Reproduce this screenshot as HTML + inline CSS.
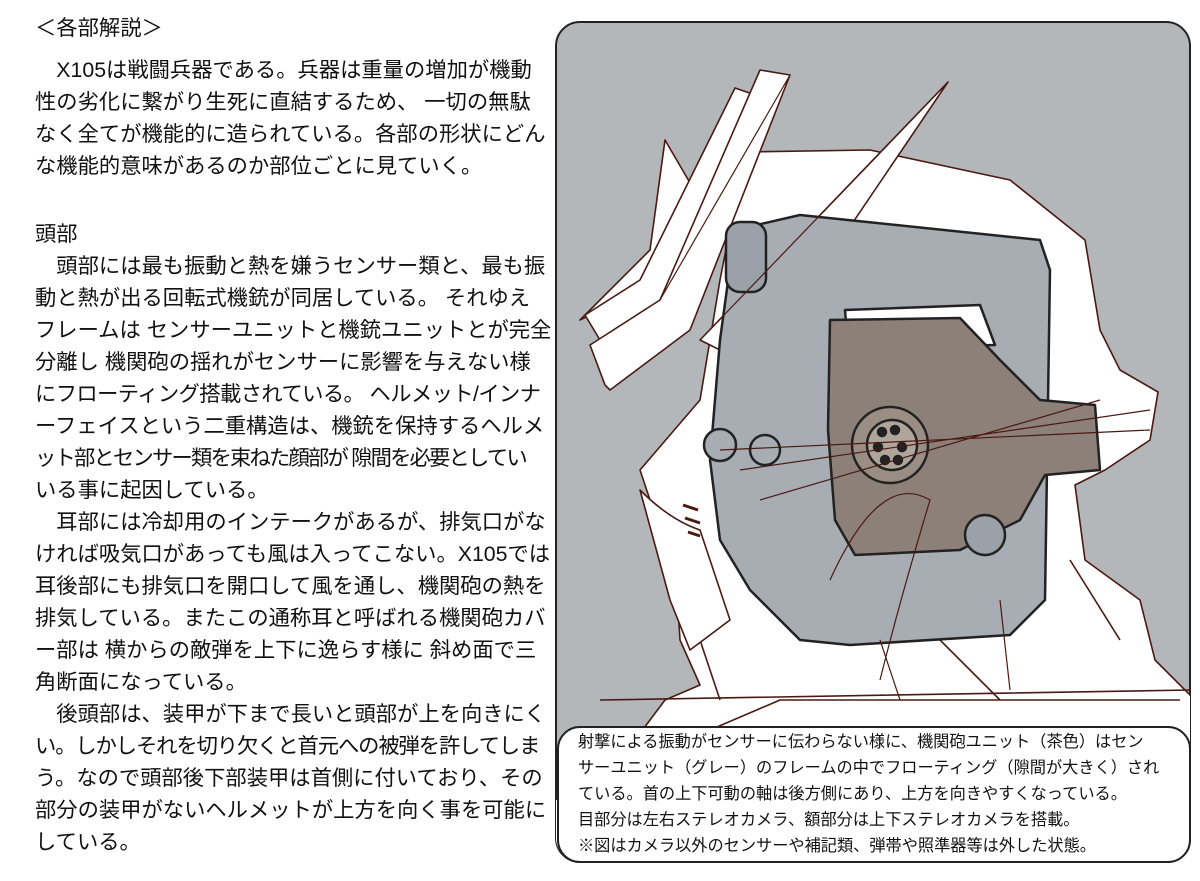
<!DOCTYPE html>
<html><head><meta charset="utf-8"><style>
body{margin:0;width:1200px;height:881px;background:#fff;position:relative;overflow:hidden;font-family:"Liberation Sans","Noto Sans CJK JP",sans-serif;color:#111}
.l{position:absolute;left:35px;font-size:21.3px;line-height:32px;white-space:nowrap;letter-spacing:0}
.c{position:absolute;left:578px;font-size:16.2px;line-height:26px;white-space:nowrap;letter-spacing:0}
</style></head><body>
<div class="l" style="top:12px">＜各部解説＞</div>
<div class="l" style="top:54px">　X105は戦闘兵器である。兵器は重量の増加が機動</div>
<div class="l" style="top:86px">性の劣化に繋がり生死に直結するため、 一切の無駄</div>
<div class="l" style="top:118px">なく全てが機能的に造られている。各部の形状にどん</div>
<div class="l" style="top:150px">な機能的意味があるのか部位ごとに見ていく。</div>
<div class="l" style="top:218px">頭部</div>
<div class="l" style="top:250px">　頭部には最も振動と熱を嫌うセンサー類と、最も振</div>
<div class="l" style="top:282px">動と熱が出る回転式機銃が同居している。 それゆえ</div>
<div class="l" style="top:314px">フレームは センサーユニットと機銃ユニットとが完全</div>
<div class="l" style="top:346px">分離し 機関砲の揺れがセンサーに影響を与えない様</div>
<div class="l" style="top:378px;letter-spacing:-0.6px">にフローティング搭載されている。 ヘルメット/インナ</div>
<div class="l" style="top:410px">ーフェイスという二重構造は、機銃を保持するヘルメ</div>
<div class="l" style="top:442px;letter-spacing:-1.8px">ット部とセンサー類を束ねた顔部が 隙間を必要としてい</div>
<div class="l" style="top:474px">いる事に起因している。</div>
<div class="l" style="top:506px">　耳部には冷却用のインテークがあるが、排気口がな</div>
<div class="l" style="top:538px">ければ吸気口があっても風は入ってこない。X105では</div>
<div class="l" style="top:570px">耳後部にも排気口を開口して風を通し、機関砲の熱を</div>
<div class="l" style="top:602px">排気している。またこの通称耳と呼ばれる機関砲カバ</div>
<div class="l" style="top:634px">ー部は 横からの敵弾を上下に逸らす様に 斜め面で三</div>
<div class="l" style="top:666px">角断面になっている。</div>
<div class="l" style="top:698px">　後頭部は、装甲が下まで長いと頭部が上を向きにく</div>
<div class="l" style="top:730px;letter-spacing:-1.1px">い。しかしそれを切り欠くと首元への被弾を許してしま</div>
<div class="l" style="top:762px">う。なので頭部後下部装甲は首側に付いており、その</div>
<div class="l" style="top:794px">部分の装甲がないヘルメットが上方を向く事を可能に</div>
<div class="l" style="top:826px">している。</div>

<svg style="position:absolute;left:0;top:0" width="1200" height="881">
<defs><clipPath id="p"><rect x="556" y="22" width="634" height="840" rx="24"/></clipPath></defs>
<rect x="556" y="22" width="634" height="840" rx="24" fill="#b4b7ba" stroke="#222" stroke-width="2"/>
<g clip-path="url(#p)" stroke="#4a1a12" stroke-width="1.6" stroke-linejoin="round">
<polygon fill="#fff" points="745,152 870,150 1010,180 1085,240 1100,330 1120,370 1158,392 1150,440 1105,470 1075,485 1085,560 1140,600 1155,660 1195,700 1195,880 555,880 555,800 620,760 665,700 700,685 680,640 675,560 660,530 640,470 700,400 720,280"/>
<polygon fill="#fff" points="580,320 640,290 700,200 665,140 650,250"/>
<polygon fill="#fff" points="600,340 660,305 770,100 735,88 640,280 585,315"/>
<polygon fill="#fff" points="610,390 690,330 790,75 760,70 660,300 590,345 605,385"/>
<polygon fill="#fff" points="700,340 948,82 780,330 760,370"/>
<path fill="none" d="M600,700 L1190,690 M640,760 L780,700 L1180,700 M700,640 L720,700 M900,600 L1000,700 M1070,560 L1120,640"/>
<path fill="#fff" d="M640,490 Q670,520 700,530 L730,620 L690,650 L670,600 Z"/>
<path fill="none" stroke="#4a1a12" stroke-width="3" d="M683,505 l15,5 M685,518 l15,5 M688,532 l12,4"/>
</g>
<g stroke="#222" stroke-width="2.5" stroke-linejoin="round">
<polygon fill="#a7adb3" points="735,230 800,215 1040,240 1050,270 1045,600 1010,635 850,645 800,640 750,590 720,540 710,460 720,340"/>
<rect x="726" y="222" width="40" height="70" rx="14" fill="#9aa1a8"/>
<polygon fill="#fff" points="845,310 980,305 995,345 848,348"/>
<polygon fill="#8c8078" points="830,320 960,318 1000,360 1040,400 1095,405 1100,470 1045,475 1020,520 960,550 855,555 835,520 828,430"/>
<circle cx="890" cy="445" r="38" fill="#9a8e84"/>
<circle cx="892" cy="445" r="25" fill="#b0a59b"/>
<circle cx="882" cy="432" r="4" fill="#222"/><circle cx="895" cy="430" r="4" fill="#222"/><circle cx="878" cy="447" r="4" fill="#222"/><circle cx="902" cy="447" r="4" fill="#222"/><circle cx="885" cy="460" r="4" fill="#222"/><circle cx="898" cy="460" r="4" fill="#222"/>
<circle cx="720" cy="445" r="16" fill="#a7adb3"/><circle cx="765" cy="450" r="15" fill="#a7adb3"/>
<circle cx="985" cy="535" r="20" fill="#9aa1a8"/>
</g>
<g stroke="#4a1a12" stroke-width="1.2" fill="none" clip-path="url(#p)">
<path d="M700,340 L948,82 M660,300 L790,75 M720,450 L1150,430 M740,470 L1150,410 M760,500 L1100,400 M830,580 Q880,470 930,500 Q900,600 880,680 M880,640 L900,700 M1000,600 L1010,690"/>
</g>
<rect x="558" y="727" width="632" height="135" rx="22" fill="#fff" stroke="#222" stroke-width="2"/>
</svg>
<div class="c" style="top:729px">射撃による振動がセンサーに伝わらない様に、機関砲ユニット（茶色）はセン</div>
<div class="c" style="top:755px">サーユニット（グレー）のフレームの中でフローティング（隙間が大きく）され</div>
<div class="c" style="top:781px">ている。首の上下可動の軸は後方側にあり、上方を向きやすくなっている。</div>
<div class="c" style="top:807px">目部分は左右ステレオカメラ、額部分は上下ステレオカメラを搭載。</div>
<div class="c" style="top:833px">※図はカメラ以外のセンサーや補記類、弾帯や照準器等は外した状態。</div>
</body></html>
